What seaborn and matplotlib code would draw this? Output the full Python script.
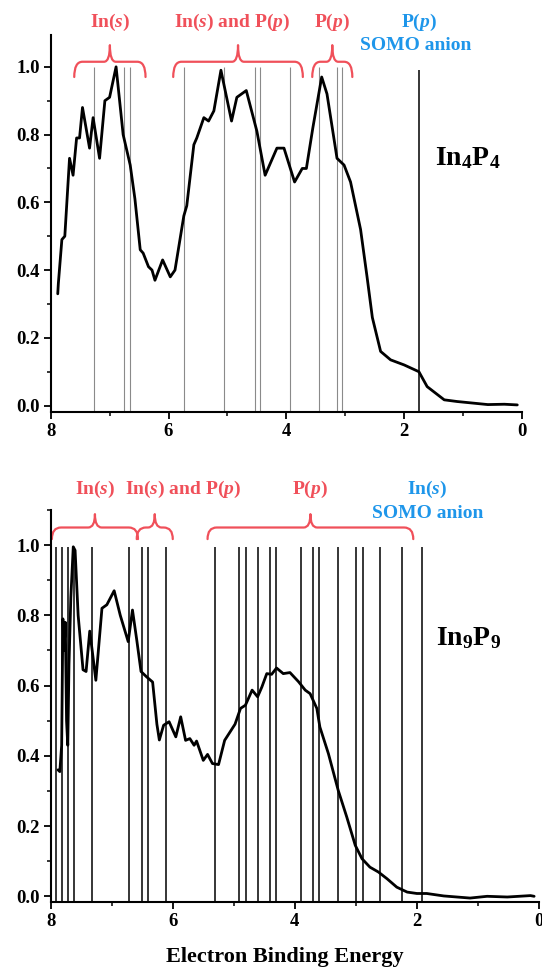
import numpy as np
import matplotlib
matplotlib.use("Agg")
import matplotlib.pyplot as plt
from matplotlib.path import Path
from matplotlib.patches import PathPatch
from matplotlib.ticker import MultipleLocator, FormatStrFormatter
import seaborn as sns

# In4P4 spectrum (electron binding energy, normalised intensity)
e_in4p4 = [7.88, 7.87, 7.81, 7.76, 7.68, 7.62, 7.56, 7.51, 7.46, 7.34, 7.28, 7.17,
           7.08, 7.00, 6.89, 6.77, 6.65, 6.57, 6.48, 6.43, 6.34, 6.28, 6.23, 6.10,
           5.97, 5.89, 5.74, 5.69, 5.57, 5.52, 5.40, 5.32, 5.23, 5.11, 4.93, 4.84,
           4.68, 4.50, 4.36, 4.16, 4.04, 3.86, 3.73, 3.66, 3.55, 3.40, 3.31, 3.14,
           3.02, 2.91, 2.74, 2.63, 2.54, 2.40, 2.23, 2.00, 1.75, 1.61, 1.32, 1.10,
           0.81, 0.58, 0.30, 0.08]
i_in4p4 = [0.33, 0.36, 0.49, 0.50, 0.73, 0.68, 0.79, 0.79, 0.88, 0.76, 0.85, 0.73,
           0.90, 0.91, 1.00, 0.80, 0.71, 0.61, 0.46, 0.45, 0.41, 0.40, 0.37, 0.43,
           0.38, 0.40, 0.56, 0.59, 0.77, 0.79, 0.85, 0.84, 0.87, 0.99, 0.84, 0.91,
           0.93, 0.81, 0.68, 0.76, 0.76, 0.66, 0.70, 0.70, 0.82, 0.97, 0.92, 0.73,
           0.71, 0.66, 0.52, 0.38, 0.26, 0.16, 0.135, 0.12, 0.10, 0.056, 0.017, 0.012,
           0.007, 0.003, 0.004, 0.002]

# In9P9 spectrum
e_in9p9 = [7.88, 7.85, 7.82, 7.80, 7.78, 7.76, 7.74, 7.72, 7.70, 7.67, 7.63, 7.60,
           7.55, 7.47, 7.42, 7.36, 7.32, 7.26, 7.16, 7.08, 6.96, 6.86, 6.73, 6.66,
           6.59, 6.52, 6.43, 6.33, 6.26, 6.22, 6.15, 6.06, 5.95, 5.87, 5.79, 5.72,
           5.65, 5.61, 5.50, 5.43, 5.35, 5.25, 5.15, 4.98, 4.89, 4.81, 4.70, 4.61,
           4.54, 4.46, 4.38, 4.30, 4.19, 4.08, 3.94, 3.83, 3.75, 3.64, 3.59, 3.45,
           3.29, 3.15, 3.01, 2.90, 2.77, 2.63, 2.49, 2.33, 2.16, 2.00, 1.84, 1.56,
           1.13, 0.85, 0.52, 0.14, 0.08]
i_in9p9 = [0.36, 0.355, 0.43, 0.79, 0.70, 0.78, 0.50, 0.43, 0.66, 0.85, 0.995, 0.985,
           0.80, 0.645, 0.64, 0.755, 0.70, 0.615, 0.82, 0.83, 0.87, 0.80, 0.725, 0.815,
           0.73, 0.64, 0.625, 0.61, 0.49, 0.445, 0.487, 0.497, 0.454, 0.511, 0.444, 0.449,
           0.43, 0.442, 0.387, 0.404, 0.378, 0.375, 0.444, 0.49, 0.535, 0.544, 0.587, 0.568,
           0.596, 0.634, 0.632, 0.650, 0.634, 0.637, 0.611, 0.587, 0.577, 0.535, 0.482, 0.406,
           0.302, 0.226, 0.145, 0.107, 0.083, 0.069, 0.05, 0.026, 0.012, 0.008, 0.008, 0.001,
           -0.005, 0.0, -0.002, 0.002, 0.0]

# calculated orbital energies (stick lines)
levels_in4p4 = [7.26, 6.75, 6.65, 5.74, 5.05, 4.54, 4.44, 3.94, 3.44, 3.14, 3.05]
somo_in4p4 = 1.75
levels_in9p9 = [7.92, 7.82, 7.715, 7.61, 7.32, 6.72, 6.51, 6.41, 6.11, 5.30, 4.91, 4.80,
                4.61, 4.41, 4.31, 3.90, 3.71, 3.61, 3.29, 3.00, 2.89, 2.60, 2.24, 1.91]

# brace groups: (start, end, label)
braces_in4p4 = [(7.60, 6.39, "In($\\mathit{s}$)"),
                (5.92, 3.72, "In($\\mathit{s}$) and P($\\mathit{p}$)"),
                (3.56, 2.88, "P($\\mathit{p}$)")]
braces_in9p9 = [(7.98, 6.57, "In($\\mathit{s}$)"),
                (6.59, 6.00, "In($\\mathit{s}$) and P($\\mathit{p}$)"),
                (5.43, 2.06, "P($\\mathit{p}$)")]

red = "#f0505a"
blue = "#1e96ea"

sns.set_style("ticks")
plt.rcParams["font.family"] = ["Liberation Serif", "DejaVu Serif"]
plt.rcParams["font.weight"] = "bold"
plt.rcParams["mathtext.fontset"] = "custom"
plt.rcParams["mathtext.rm"] = "Liberation Serif:bold"
plt.rcParams["mathtext.it"] = "Liberation Serif:italic:bold"
plt.rcParams["mathtext.bf"] = "Liberation Serif:bold"
plt.rcParams["mathtext.default"] = "regular"
for key in ["text.color", "axes.labelcolor", "xtick.color", "ytick.color", "axes.edgecolor"]:
    plt.rcParams[key] = "black"


def draw_brace(ax, x0, x1, y_tip, y_mid, y_peak, r_end, r_mid):
    xm = (x0 + x1) / 2
    s = 1 if x1 > x0 else -1
    verts = [(x0, y_tip), (x0, y_mid), (x0 + s * r_end, y_mid),
             (xm - s * r_mid, y_mid), (xm, y_mid), (xm, y_peak),
             (xm, y_mid), (xm + s * r_mid, y_mid),
             (x1 - s * r_end, y_mid), (x1, y_mid), (x1, y_tip)]
    codes = [Path.MOVETO, Path.CURVE3, Path.CURVE3, Path.LINETO, Path.CURVE3, Path.CURVE3,
             Path.CURVE3, Path.CURVE3, Path.LINETO, Path.CURVE3, Path.CURVE3]
    ax.add_patch(PathPatch(Path(verts, codes), fc="none", ec=red, lw=1.6,
                           clip_on=False, capstyle="round", joinstyle="round"))


def style_axis(ax, ylim):
    ax.set_xlim(8, 0)
    ax.set_ylim(*ylim)
    ax.xaxis.set_major_locator(MultipleLocator(2))
    ax.xaxis.set_minor_locator(MultipleLocator(1))
    ax.yaxis.set_major_locator(MultipleLocator(0.2))
    ax.yaxis.set_minor_locator(MultipleLocator(0.1))
    ax.yaxis.set_major_formatter(FormatStrFormatter("%.1f"))
    ax.xaxis.set_major_formatter(FormatStrFormatter("%d"))
    ax.tick_params(which="major", direction="out", length=5, width=1.3, labelsize=13.5,
                   pad=3, color="black", labelcolor="black")
    ax.tick_params(which="minor", direction="out", length=3, width=1.1, color="black")
    for side in ["top", "right"]:
        ax.spines[side].set_visible(False)
    for side in ["left", "bottom"]:
        ax.spines[side].set_linewidth(1.5)
        ax.spines[side].set_color("black")
    for lab in ax.get_xticklabels() + ax.get_yticklabels():
        lab.set_fontweight("bold")
    ax.set_xlabel("")
    ax.set_ylabel("")


fig = plt.figure(figsize=(5.42, 9.68), dpi=100)
ax1 = fig.add_axes([0.0935, 0.5747, 0.8696, 0.3895])
ax2 = fig.add_axes([0.0935, 0.0679, 0.901, 0.4053])

# top panel: In4P4
ax1.vlines(levels_in4p4, -0.02, 1.0, color="#8a8a8a", lw=0.8)
ax1.vlines([somo_in4p4], -0.02, 0.99, color="black", lw=1.1)
sns.lineplot(x=e_in4p4, y=i_in4p4, ax=ax1, color="black", lw=2.0)
style_axis(ax1, (-0.018, 1.095))
for x0, x1, lab in braces_in4p4:
    draw_brace(ax1, x0, x1, 0.97, 1.015, 1.064, 0.14, 0.10)
    xt = (x0 + x1) / 2
    if "and" in lab:
        xt = 4.92
    ax1.text(xt, 1.13, lab, color=red, fontsize=14, ha="center", va="center")
ax1.text(somo_in4p4, 1.13, "P($\\mathit{p}$)", color=blue, fontsize=14, ha="center", va="center")
ax1.text(1.81, 1.064, "SOMO anion", color=blue, fontsize=14, ha="center", va="center")
ax1.text(0.92, 0.73, "In$_4$P$_4$", color="black", fontsize=20, ha="center", va="center")

# bottom panel: In9P9
ax2.vlines(levels_in9p9, -0.02, 0.995, color="black", lw=1.1)
sns.lineplot(x=e_in9p9, y=i_in9p9, ax=ax2, color="black", lw=2.0)
style_axis(ax2, (-0.017, 1.10))
for x0, x1, lab in braces_in9p9:
    draw_brace(ax2, x0, x1, 1.017, 1.05, 1.088, 0.15, 0.11)
    xt = (x0 + x1) / 2
    if "and" in lab:
        xt = 5.83
    ax2.text(xt, 1.157, lab, color=red, fontsize=14, ha="center", va="center")
ax2.text(1.83, 1.157, "In($\\mathit{s}$)", color=blue, fontsize=14, ha="center", va="center")
ax2.text(1.83, 1.09, "SOMO anion", color=blue, fontsize=14, ha="center", va="center")
ax2.text(1.15, 0.735, "In$_9$P$_9$", color="black", fontsize=20, ha="center", va="center")

fig.text(285 / 542, 1 - 962 / 968, "Electron Binding Energy", fontsize=16, color="black",
         fontweight="bold", ha="center", va="baseline")

fig.savefig("out.png", dpi=100)
